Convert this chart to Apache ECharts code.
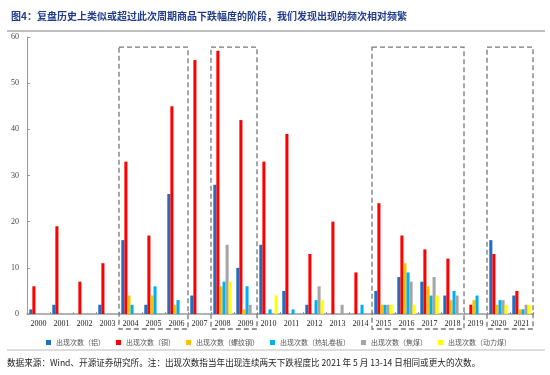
<!DOCTYPE html>
<html><head><meta charset="utf-8">
<script src="https://cdn.jsdelivr.net/npm/echarts@6/dist/echarts.min.js"></script>
<style>html,body{margin:0;padding:0;background:#fff}#c{width:550px;height:375px}</style>
</head><body><div id="c"></div>
<script>
const years = ['2000','2001','2002','2003','2004','2005','2006','2007','2008','2009','2010','2011','2012','2013','2014','2015','2016','2017','2018','2019','2020','2021'];
const yTicks = [0,10,20,30,40,50,60];
const seriesNames = ['出现次数（铝）','出现次数（铜）','出现次数（螺纹钢）','出现次数（热轧卷板）','出现次数（焦煤）','出现次数（动力煤）'];
const aluminum = [1,2,0,2,16,2,26,4,28,10,15,5,2,0,0,5,8,7,4,0,16,4];
const copper   = [6,19,7,11,33,17,45,55,57,42,33,39,13,20,9,24,17,14,12,2,13,5];
const rebar    = [0,0,0,0,4,4,2,0,6,1,0,0,0,0,0,2,11,6,3,3,2,1];
const hotRoll  = [0,0,0,0,2,6,3,0,7,6,1,1,3,0,2,2,9,4,5,4,3,1];
const cokingCoal=[0,0,0,0,0,0,0,0,15,2,0,0,6,2,0,2,7,8,4,0,3,2];
const thermalCoal=[0,0,0,0,0,0,0,0,7,0,4,0,3,0,0,2,2,4,0,0,2,2];
// highlighted periods: [first year, last year]
const boxes = [['2004','2006'],['2008','2009'],['2015','2018'],['2020','2021']];
const colors = ['#1F6EC1','#FF0000','#FFC000','#00B0F0','#A5A5A5','#FFFF00'];
const datasets = [aluminum,copper,rebar,hotRoll,cokingCoal,thermalCoal];

const chart = echarts.init(document.getElementById('c'));
const serif = 'Liberation Serif, Times New Roman, serif';
const option = {
  animation:false,
  title:{text:'图4：复盘历史上类似或超过此次周期商品下跌幅度的阶段，我们发现出现的频次相对频繁',left:6,top:6,
    textStyle:{fontSize:10,fontWeight:'bold',color:'#233C8C',fontFamily:'Noto Sans CJK SC'}},
  grid:{left:27,right:17,top:37,bottom:61},
  legend:{top:334,left:41,width:520,itemWidth:5,itemHeight:5,itemGap:11,icon:'rect',
    textStyle:{fontSize:7,color:'#555',fontFamily:'Noto Sans CJK SC'},data:seriesNames},
  xAxis:{type:'category',data:years,boundaryGap:true,
    axisLine:{lineStyle:{color:'#999',width:1.5}},
    axisTick:{show:true,inside:true,length:2,interval:0,lineStyle:{color:'#999'}},
    axisLabel:{fontSize:8,color:'#222',fontFamily:serif,margin:6,interval:0}},
  yAxis:{type:'value',min:0,max:60,interval:10,
    axisLine:{show:true,lineStyle:{color:'#999'}},
    axisTick:{show:true,inside:true,length:3,lineStyle:{color:'#999'}},
    splitLine:{show:false},
    axisLabel:{fontSize:8,color:'#444',fontFamily:serif,margin:8}},
  series: seriesNames.map((n,i)=>({name:n,type:'bar',data:datasets[i],barGap:'0%',barCategoryGap:'20%',
    itemStyle:{color:colors[i]}})),
  graphic:[]
};
chart.setOption(option);

function drawBoxes(){
  const g = [];
  const top = chart.convertToPixel({yAxisIndex:0}, 57.8);
  const base = chart.convertToPixel({yAxisIndex:0}, 0);
  const half = (chart.convertToPixel({xAxisIndex:0}, years[1]) - chart.convertToPixel({xAxisIndex:0}, years[0]))/2;
  boxes.forEach(b=>{
    const x1 = chart.convertToPixel({xAxisIndex:0}, b[0]) - half;
    const x2 = chart.convertToPixel({xAxisIndex:0}, b[1]) + half;
    g.push({type:'rect',shape:{x:x1,y:top,width:x2-x1,height:base+15-top},
      style:{fill:'none',stroke:'#777',lineWidth:1.3,lineDash:[5,3]},z:10});
  });
  g.push({type:'line',shape:{x1:7,y1:31,x2:545,y2:31},style:{stroke:'#aaa',lineWidth:1.5}});
  g.push({type:'line',shape:{x1:7,y1:350,x2:545,y2:350},style:{stroke:'#bbb',lineWidth:1}});
  g.push({type:'text',left:7,top:358,style:{text:'数据来源：Wind、开源证券研究所。注：出现次数指当年出现连续两天下跌程度比 2021 年 5 月 13-14 日相同或更大的次数。',
    fontSize:8.6,fill:'#222',fontFamily:'Noto Sans CJK SC'}});
  chart.setOption({graphic:g});
}
drawBoxes();
</script></body></html>
